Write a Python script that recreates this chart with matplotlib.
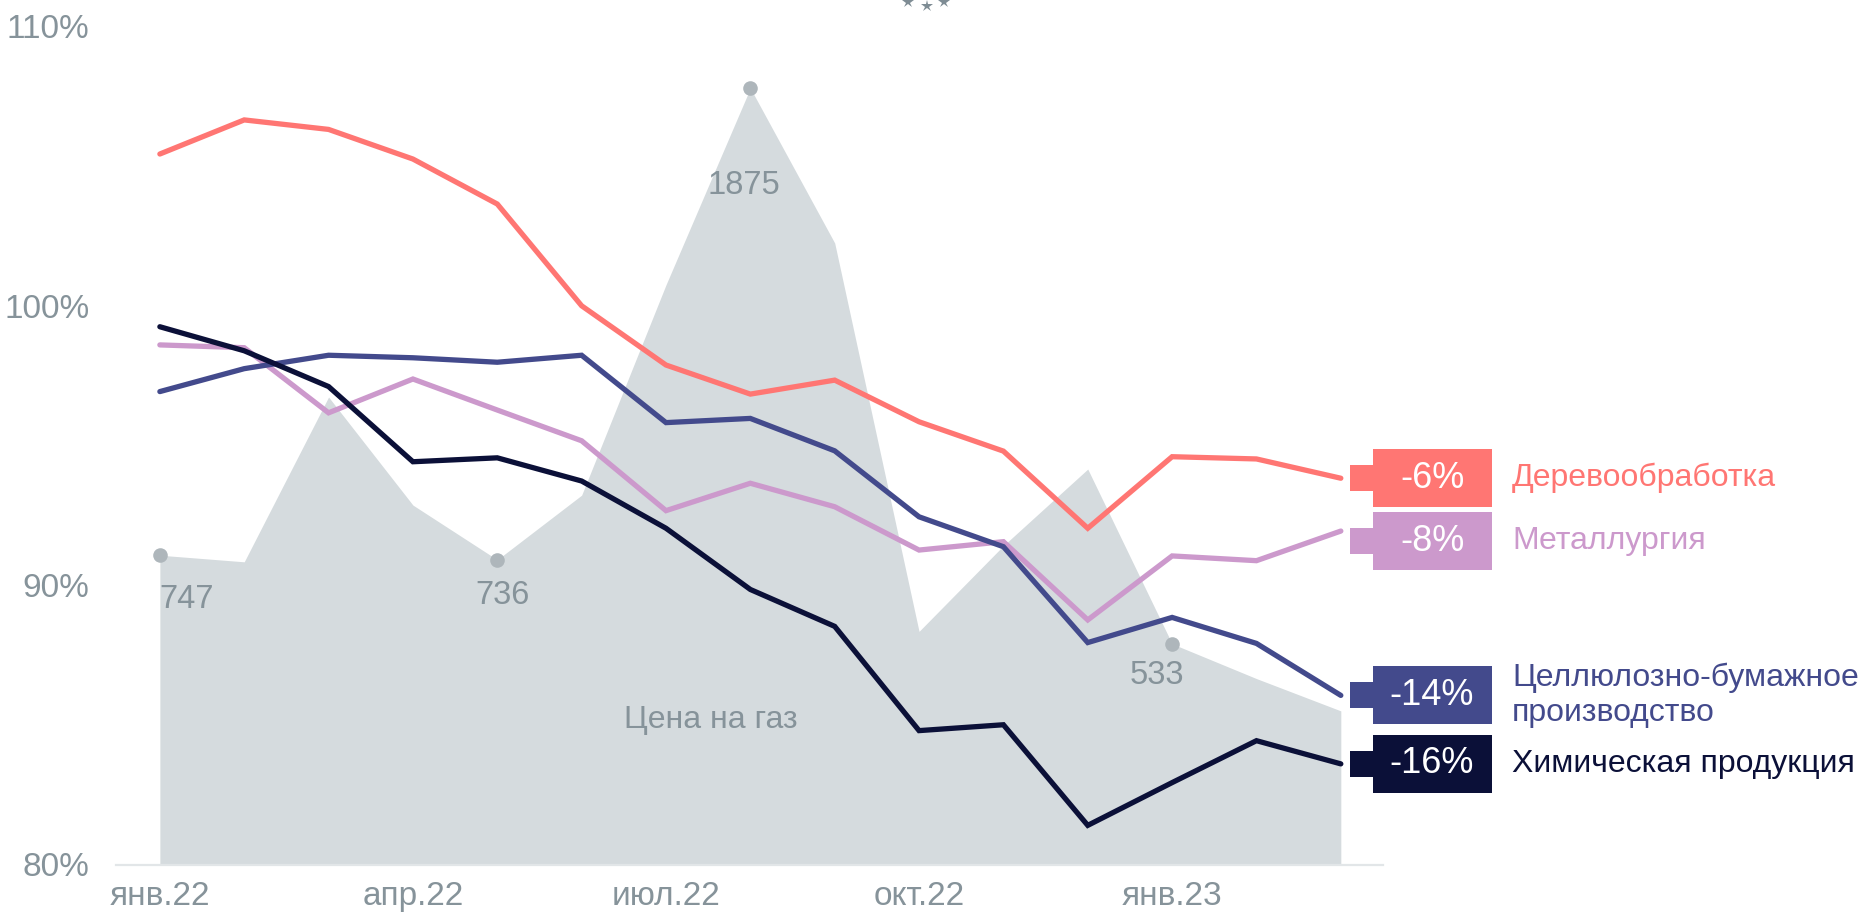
import matplotlib
matplotlib.use("Agg")
import matplotlib.pyplot as plt
from matplotlib.patches import Rectangle
from matplotlib.lines import Line2D
from matplotlib.transforms import blended_transform_factory

# ---------------- data ----------------
months = ["янв.22", "фев.22", "мар.22", "апр.22", "май.22", "июн.22", "июл.22",
          "авг.22", "сен.22", "окт.22", "ноя.22", "дек.22", "янв.23", "фев.23", "мар.23"]
tick_idx = [0, 3, 6, 9, 12]

gas_price = [747, 731, 1129, 868, 736, 892, 1400, 1875, 1501, 563, 770, 955, 533, 449, 371]
gas_labeled = [0, 4, 7, 12]
gas_name = "Цена на газ"

wood = [105.42, 106.64, 106.30, 105.24, 103.63, 99.99, 97.87, 96.83, 97.33, 95.84,
        94.79, 92.03, 94.59, 94.51, 93.82]
metal = [98.59, 98.49, 96.16, 97.37, 96.26, 95.16, 92.66, 93.64, 92.80, 91.25,
         91.55, 88.75, 91.04, 90.87, 91.93]
paper = [96.92, 97.74, 98.22, 98.13, 97.97, 98.22, 95.81, 95.96, 94.80, 92.44,
         91.37, 87.94, 88.84, 87.91, 86.05]
chem = [99.24, 98.38, 97.10, 94.41, 94.55, 93.72, 92.03, 89.84, 88.52, 84.79,
        85.00, 81.40, 82.93, 84.43, 83.60]

series_names = ["Деревообработка", "Металлургия",
                "Целлюлозно-бумажное\nпроизводство", "Химическая продукция"]
series_values = [wood, metal, paper, chem]
series_colors = ["#FF7673", "#CC99CC", "#434A8C", "#0B1038"]

y_ticks = [80, 90, 100, 110]

# ---------------- style ----------------
FONT = "Liberation Sans"
plt.rcParams["font.family"] = [FONT, "DejaVu Sans"]
GREY_TXT = "#86939A"
GAS_FILL = "#D5DBDE"
GAS_MARK = "#AEB6BB"

W, H = 1862, 919
fig = plt.figure(figsize=(W / 100, H / 100), dpi=100)
left_px, right_px, top_px, bot_px = 116, 1383, 26, 864.5
ax = fig.add_axes([left_px / W, (H - bot_px) / H, (right_px - left_px) / W, (bot_px - top_px) / H])
ax2 = ax.twinx()
ax.set_zorder(ax2.get_zorder() + 1)
ax.patch.set_visible(False)

x = list(range(len(months)))

# gas area
ax2.fill_between(x, 0, gas_price, color=GAS_FILL, lw=0, zorder=1)
ax2.set_ylim(0, 2025)
ax2.set_yticks([])
for s in ax2.spines.values():
    s.set_visible(False)

label_offsets = [(0, -32, "left"), (4, -26, "center"), (-5, -70, "center"), (-11, -23, "center")]
for i, (dx, dy, ha) in zip(gas_labeled, label_offsets):
    ax2.plot([x[i]], [gas_price[i]], "o", color=GAS_MARK, ms=10.5, mew=0, zorder=3)
    ax2.annotate(str(gas_price[i]), (x[i], gas_price[i]), xytext=(dx, dy),
                 textcoords="offset points", ha=ha, va="center",
                 fontsize=23.5, color=GREY_TXT, zorder=4)

# lines
for vals, col in zip(series_values, series_colors):
    ax.plot(x, vals, color=col, lw=3.8, solid_capstyle="round",
            solid_joinstyle="miter", zorder=5)

ax.set_xlim(-0.52, 14.5)
ax.set_ylim(80, 110)
ax.set_yticks(y_ticks)
ax.set_yticklabels([f"{v}%" for v in y_ticks])
ax.set_xticks([x[i] for i in tick_idx])
ax.set_xticklabels([months[i] for i in tick_idx])
ax.tick_params(axis="both", length=0, labelsize=24, labelcolor=GREY_TXT)
ax.tick_params(axis="y", pad=19)
ax.tick_params(axis="x", pad=12)
for k in ["top", "right", "left"]:
    ax.spines[k].set_visible(False)
ax.spines["bottom"].set_color("#E2E6E8")
ax.spines["bottom"].set_linewidth(1.6)
ax.spines["bottom"].set_zorder(0)

ax.text(6.53, 85.17, gas_name, ha="center", va="center", fontsize=23,
        color=GREY_TXT, zorder=4)

# right-side labels
tr = blended_transform_factory(fig.transFigure, ax.transData)
box_h = 2.08
notch_h = 0.93
min_gap = 2.25
prev = None
for vals, col, name in zip(series_values, series_colors, series_names):
    yc = vals[-1] if prev is None else min(vals[-1], prev - min_gap)
    prev = yc
    ax.add_patch(Rectangle((1350 / W, yc - notch_h / 2), (1374 - 1350) / W, notch_h,
                           transform=tr, color=col, lw=0, clip_on=False, zorder=6))
    ax.add_patch(Rectangle((1373 / W, yc - box_h / 2), (1492 - 1373) / W, box_h,
                           transform=tr, color=col, lw=0, clip_on=False, zorder=6))
    pct = round(vals[-1] - 100)
    ax.text(1432 / W, yc, f"{pct}%", transform=tr, ha="center", va="center",
            fontsize=26, color="white", zorder=7, clip_on=False)
    ax.text(1512 / W, yc, name, transform=tr, ha="left", va="center",
            fontsize=23, color=col, zorder=7, clip_on=False, linespacing=1.2)

# decorative stars at top
for sx, sy in [(908, 2), (927, 6), (944, 2)]:
    fig.add_artist(Line2D([sx / W], [1 - sy / H], marker="*", ms=9, color="#7E8C94",
                          mew=0, transform=fig.transFigure))

fig.savefig("out.png", dpi=100)
